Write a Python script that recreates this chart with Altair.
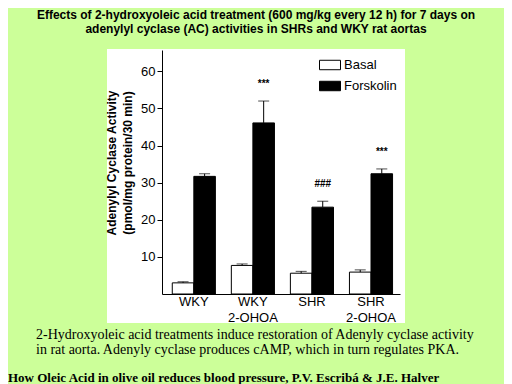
import altair as alt
import pandas as pd

# ---- data ----
group_ids = ["WKY", "WKY 2-OHOA", "SHR", "SHR 2-OHOA"]
group_labels = ["WKY", "WKY\n2-OHOA", "SHR", "SHR\n2-OHOA"]
series = ["Basal", "Forskolin"]
basal = [3.0, 7.7, 5.6, 5.9]
basal_err = [0.3, 0.4, 0.5, 0.6]
forskolin = [31.7, 46.1, 23.4, 32.4]
forskolin_err = [0.7, 5.9, 1.6, 1.3]
signif = ["", "***", "###", "***"]

title_lines = "Effects of 2-hydroxyoleic acid treatment (600 mg/kg every 12 h) for 7 days on\nadenylyl cyclase (AC) activities in SHRs and WKY rat aortas"
y_title = "Adenylyl Cyclase Activity\n(pmol/mg protein/30 min)"
caption = "2-Hydroxyoleic acid treatments induce restoration of Adenyly cyclase activity\nin rat aorta. Adenyly cyclase produces cAMP, which in turn regulates PKA."
footer = "How Oleic Acid in olive oil reduces blood pressure, P.V. Escribá & J.E. Halver"

rows = []
for i, g in enumerate(group_ids):
    rows.append({"group": g, "series": "Basal", "value": basal[i],
                 "top": basal[i] + basal_err[i], "mark": ""})
    rows.append({"group": g, "series": "Forskolin", "value": forskolin[i],
                 "top": forskolin[i] + forskolin_err[i], "mark": signif[i]})
df = pd.DataFrame(rows)
lab_df = pd.DataFrame({"group": group_ids, "label": group_labels})
one = pd.DataFrame({"a": [0]})

SANS = "Liberation Sans, Arial, sans-serif"
SERIF = "Liberation Serif, Times New Roman, serif"

xscale = alt.Scale(domain=group_ids, paddingInner=0.27, paddingOuter=0.15, align=0.58)
X = alt.X("group:N", sort=group_ids, scale=xscale,
          axis=alt.Axis(labels=False, ticks=False, title=None, domainColor="black",
                        grid=False, zindex=1))
XO = alt.XOffset("series:N", sort=series, scale=alt.Scale(domain=series, paddingInner=0, paddingOuter=0))
Y = alt.Y("value:Q", scale=alt.Scale(domain=[0, 65.75], nice=False, zero=True),
          axis=alt.Axis(values=[10, 20, 30, 40, 50, 60], title=None, grid=False, zindex=1,
                        domainColor="black", tickColor="black", tickSize=5,
                        labelFont=SANS, labelFontSize=13, labelColor="black", labelPadding=2))

panel = alt.Chart(one).mark_rect(fill="white").encode(
    x=alt.value(-55), x2=alt.value(243), y=alt.value(-1), y2=alt.value(273))

bars = alt.Chart(df).mark_bar(stroke="black", strokeWidth=1).encode(
    x=X, xOffset=XO, y=Y,
    fill=alt.Fill("series:N", sort=series,
                  scale=alt.Scale(domain=series, range=["white", "black"]),
                  legend=alt.Legend(orient="none", legendX=157, legendY=4, title=None,
                                    symbolType="M-1,-0.45L1,-0.45L1,0.45L-1,0.45Z",
                                    symbolSize=441, symbolStrokeColor="black",
                                    symbolStrokeWidth=1, labelFont=SANS, labelFontSize=13,
                                    labelColor="black", labelOffset=3, rowPadding=3, padding=0)))

err = alt.Chart(df).mark_rule(color="black", strokeWidth=1).encode(
    x=X, xOffset=XO, y="value:Q", y2="top:Q")
caps = alt.Chart(df).mark_tick(color="black", thickness=1, size=11, orient="horizontal").encode(
    x=X, xOffset=XO, y="top:Q")
ann = alt.Chart(df).transform_filter(alt.datum.mark != "").mark_text(
    dy=-17, fontSize=10, fontWeight="bold", font=SANS, color="black", baseline="middle").encode(
    x=X, xOffset=XO, y="top:Q", text="mark:N")

xlabels = alt.Chart(lab_df).mark_text(
    font=SANS, fontSize=13, color="black", baseline="middle", lineBreak="\n", lineHeight=16).encode(
    x=X, y=alt.value(252), text="label:N")

title = alt.Chart(one).mark_text(
    text=title_lines, lineBreak="\n", font=SANS, fontSize=12, fontWeight="bold",
    color="black", align="center", baseline="middle", lineHeight=14).encode(
    x=alt.value(94), y=alt.value(-35))

ytitle = alt.Chart(one).mark_text(
    text=y_title, lineBreak="\n", font=SANS, fontSize=12, fontWeight="bold", angle=270,
    color="black", align="center", baseline="middle", lineHeight=16).encode(
    x=alt.value(-50), y=alt.value(113))

cap = alt.Chart(one).mark_text(
    text=caption, lineBreak="\n", font=SERIF, fontSize=14, color="black",
    align="left", baseline="middle", lineHeight=15).encode(
    x=alt.value(-126), y=alt.value(285))

foot = alt.Chart(one).mark_text(
    text=footer, font=SERIF, fontSize=13, fontWeight="bold", color="black",
    align="left", baseline="middle").encode(
    x=alt.value(-154), y=alt.value(328))

chart = alt.layer(panel, bars, err, caps, ann, xlabels, title, ytitle, cap, foot).properties(
    width=238, height=244,
    autosize=alt.AutoSizeParams(type="none"),
    padding={"left": 154, "top": 42, "right": 104, "bottom": 90},
).configure(background="#ccff99").configure_view(stroke=None)

chart.save("out.html", embed_options={"renderer": "svg", "actions": False})
